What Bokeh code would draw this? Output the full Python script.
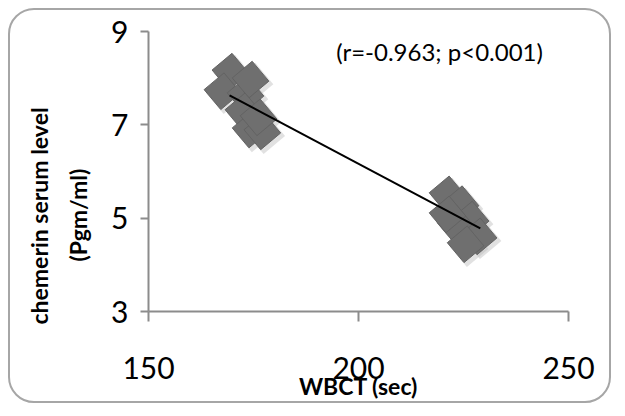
import math
from bokeh.plotting import figure
from bokeh.models import Range1d, FixedTicker, Label, Title
from bokeh.embed import file_html
from bokeh.resources import INLINE

# data
wbct = [169.5, 167.6, 173.1, 174.3, 172.6, 174.3, 177.1, 176.2,
        221.2, 224.3, 226.7, 223.1, 228.6, 225.5, 221.2]
chemerin = [8.14, 7.72, 7.65, 7.97, 7.29, 6.90, 6.86, 7.16,
            5.51, 5.30, 4.97, 4.87, 4.61, 4.44, 5.08]
trend_x = [169.3, 229.0]
trend_y = [7.63, 4.78]
x_ticks = [150, 200, 250]
y_ticks = [3, 5, 7, 9]
stat_text = "(r=-0.963; p<0.001)"
x_title = "WBCT (sec)"
y_title_lines = ["chemerin serum level", "(Pgm/ml)"]

FONT = "Lato"
AXIS_COLOR = "#8c8c8c"

p = figure(width=603, height=395, output_backend="svg", toolbar_location=None,
           x_range=Range1d(150, 250), y_range=Range1d(3, 9),
           min_border_left=138, min_border_right=45,
           min_border_top=21, min_border_bottom=94)
p.styles = {"border": "2px solid #a6a6a6", "border-radius": "26px",
            "margin-left": "8px", "margin-top": "8px"}
p.outline_line_color = None
p.grid.grid_line_color = None
p.background_fill_color = "white"
p.border_fill_color = None

# shadow
dx = 3 * (100 / 420)
dy = -3 * (6 / 280)
p.scatter([v + dx for v in wbct], [v + dy for v in chemerin], marker="square",
          size=28, angle=math.radians(40), fill_color="#bdbdbd", fill_alpha=0.45,
          line_color=None)
p.scatter(wbct, chemerin, marker="square", size=26, angle=math.radians(40),
          fill_color="#6f6f6f", line_color="#636363", line_width=1)
p.line(trend_x, trend_y, line_color="black", line_width=2)

for ax in (p.xaxis, p.yaxis):
    ax.axis_line_color = AXIS_COLOR
    ax.axis_line_width = 2
    ax.major_tick_line_color = AXIS_COLOR
    ax.major_tick_line_width = 2
    ax.minor_tick_line_color = None
    ax.major_tick_in = 0
    ax.major_label_text_font = FONT
    ax.major_label_text_font_size = "30px"
    ax.major_label_text_color = "black"

p.xaxis.ticker = FixedTicker(ticks=x_ticks)
p.yaxis.ticker = FixedTicker(ticks=y_ticks)
p.xaxis.major_tick_out = 10
p.yaxis.major_tick_out = 8
p.xaxis.major_label_standoff = 35
p.yaxis.major_label_standoff = 12
p.xaxis.axis_label = x_title
p.xaxis.axis_label_standoff = -10
p.xaxis.axis_label_text_font = FONT
p.xaxis.axis_label_text_font_style = "bold"
p.xaxis.axis_label_text_font_size = "23px"
p.xaxis.axis_label_text_color = "black"

title_kw = dict(text_font=FONT, text_font_style="bold", text_font_size="23px",
                text_color="black", align="left")
p.add_layout(Title(text=y_title_lines[1], standoff=33, offset=50, **title_kw), "left")
p.add_layout(Title(text=y_title_lines[0], standoff=-14, offset=-13, **title_kw), "left")

p.add_layout(Label(x=219.3, y=8.57, text=stat_text, text_font=FONT,
                   text_font_size="24px", text_align="center",
                   text_baseline="middle", text_color="black"))

open("out.html", "w").write(file_html(p, INLINE))
